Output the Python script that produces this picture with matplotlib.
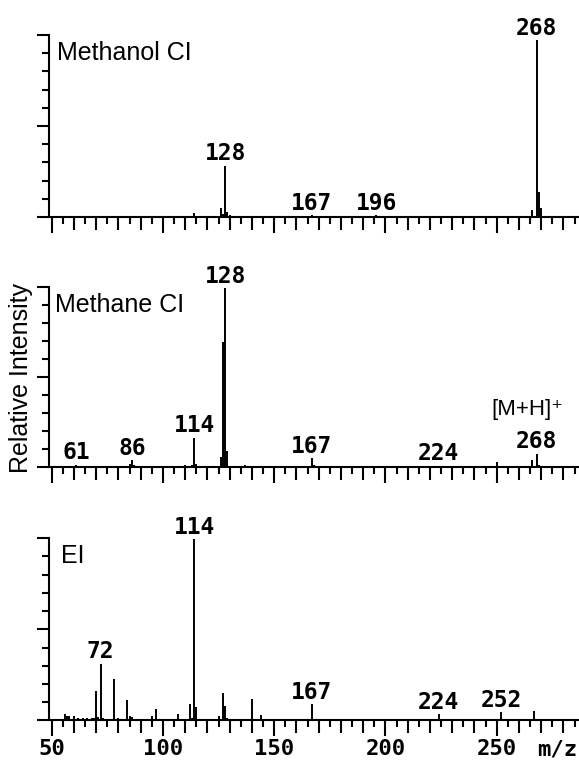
import matplotlib.pyplot as plt

# Methanol CI spectrum (m/z, relative intensity %)
mz_meoh = [114, 126, 127, 128, 129, 130, 167, 196, 266, 268, 269, 270]
int_meoh = [2, 5, 1.5, 28, 3, 1, 1, 1, 4, 97, 14, 5]
labels_meoh = [128, 167, 196, 268]

# Methane CI spectrum
mz_ch4 = [61, 78, 83, 85, 86, 87, 96, 98, 100, 106, 108, 110, 112, 113, 114, 115,
          121, 122, 124, 126, 127, 128, 129, 135, 137, 139, 141, 167, 168, 180, 182,
          224, 250, 266, 268, 269]
int_ch4 = [1.5, 1, 1, 2, 4, 1.5, 1, 1, 1, 1, 1, 1.5, 1, 1.5, 16.5, 2,
           1, 1, 1, 6, 69.5, 99, 9, 1, 1.5, 1, 1, 5, 1.5, 1, 1,
           1, 3, 4, 7.5, 1.5]
labels_ch4 = [61, 86, 114, 128, 167, 224, 268]

# EI spectrum
mz_ei = [56, 57, 58, 60, 62, 64, 66, 68, 69, 70, 71, 72, 73, 74, 76, 78, 80,
         84, 85, 86, 87, 95, 97, 103, 107, 110, 112, 113, 114, 115, 118, 125,
         127, 128, 129, 130, 140, 141, 144, 158, 167, 170, 180, 210, 224, 252, 267]
int_ei = [3.5, 2.5, 2.5, 2.5, 1.5, 1.2, 1.2, 1.5, 1.5, 16, 2, 31, 1.5, 1, 1, 23, 1.5,
          11.5, 2.5, 2, 1, 2.5, 6.5, 1, 3.5, 1, 9, 1.5, 99.5, 7.5, 1, 2.5,
          15, 8, 1.5, 1, 12, 1, 3, 1, 9, 1, 1, 1, 3.5, 4.5, 5]
labels_ei = [72, 114, 167, 224, 252]

panel_names = ["Methanol CI", "Methane CI", "EI"]
name_x = [0.015, 0.011, 0.023]
xtick_values = [50, 100, 150, 200, 250]
xtick_labels = ["50", "100", "150", "200", "250"]

SANS = ["Liberation Sans", "DejaVu Sans"]

fig = plt.figure(figsize=(5.79, 7.62), dpi=100)

# axes boxes in figure fraction: left, bottom, width, height
boxes = [
    (0.0846, 0.7152, 0.9136, 0.2389),
    (0.0846, 0.3865, 0.9136, 0.2373),
    (0.0846, 0.0545, 0.9136, 0.2391),
]
spectra = [
    (mz_meoh, int_meoh, labels_meoh),
    (mz_ch4, int_ch4, labels_ch4),
    (mz_ei, int_ei, labels_ei),
]

for i, (box, (mz, inten, labels)) in enumerate(zip(boxes, spectra)):
    ax = fig.add_axes(box)
    ax.vlines(mz, 0, inten, color="black", lw=1.4)

    ax.set_xlim(48.8, 286.55)
    ax.set_ylim(0, 100)
    for side in ["top", "right"]:
        ax.spines[side].set_visible(False)
    for side in ["left", "bottom"]:
        ax.spines[side].set_linewidth(1.5)

    # y ticks: every 10 %, longer at 0/50/100
    ax.set_yticks([0, 50, 100])
    ax.set_yticks(range(10, 100, 10), minor=True)
    ax.tick_params(axis="y", which="major", length=9, width=1.5, labelleft=False)
    ax.tick_params(axis="y", which="minor", length=4.8, width=1.5)

    # x ticks: 50s long, 10s medium, 5s short
    last = i == len(boxes) - 1
    if last:
        ax.set_xticks(xtick_values + [277], xtick_labels + ["m/z"])
        ax.xaxis.get_major_ticks()[-1].tick1line.set_visible(False)
    else:
        ax.set_xticks(xtick_values)
    ax.set_xticks([t for t in range(60, 290, 10) if t % 50], minor=True)
    ax.tick_params(axis="x", which="major", length=11.5, width=1.5, pad=2,
                   labelbottom=last)
    ax.tick_params(axis="x", which="minor", length=9.2, width=1.5)
    for lab in ax.get_xticklabels():
        lab.set_fontfamily("DejaVu Sans Mono")
        lab.set_fontweight("bold")
        lab.set_fontsize(16)

    sec = ax.secondary_xaxis("bottom")
    sec.set_xticks([t for t in range(55, 290, 10)])
    sec.tick_params(axis="x", length=5, width=1.5, labelbottom=False)
    sec.spines["bottom"].set_visible(False)

    heights = dict(zip(mz, inten))
    for m in labels:
        ax.annotate(str(m), xy=(m, heights[m]), xytext=(0, 4),
                    textcoords="offset points", ha="center", va="baseline",
                    fontfamily="DejaVu Sans Mono", fontweight="bold", fontsize=16.5,
                    annotation_clip=False)

    ax.text(name_x[i], 0.9, panel_names[i], transform=ax.transAxes,
            ha="left", va="center", fontfamily=SANS, fontsize=18)

    if i == 1:
        ax.text(264, 32, "[M+H]\u207a", ha="center", va="center",
                fontfamily=SANS, fontsize=16)

fig.text(0.036, 1 - 378 / 762, "Relative Intensity", rotation=90,
         ha="center", va="center", fontfamily=SANS, fontsize=18)

fig.savefig("out.png", dpi=100)
